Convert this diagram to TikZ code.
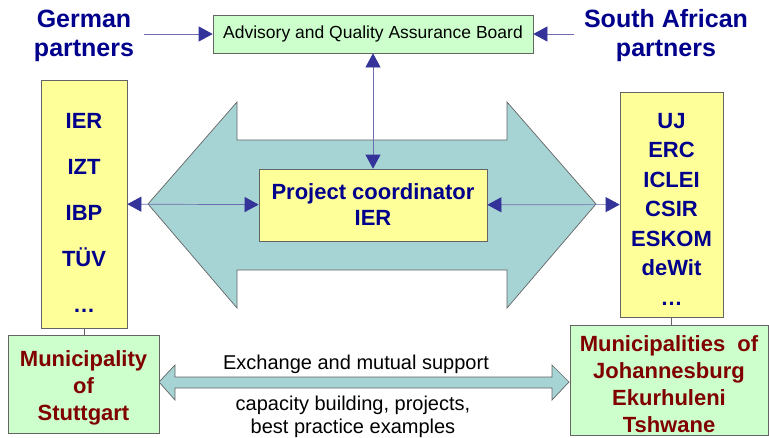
\documentclass[tikz,border=0pt]{standalone}
\usepackage{fontspec}
\setmainfont{Liberation Sans}
\usetikzlibrary{arrows.meta}
\usetikzlibrary{positioning}
\definecolor{partnerblue}{RGB}{0,0,140}
\definecolor{cityred}{RGB}{128,0,0}
\definecolor{tipblue}{RGB}{51,51,153}
\definecolor{lineblue}{RGB}{110,110,175}
\definecolor{boxyellow}{RGB}{255,255,153}
\definecolor{boxgreen}{RGB}{204,255,204}
\definecolor{flowcyan}{RGB}{166,212,212}
\definecolor{rim}{RGB}{100,100,100}

\begin{document}
\begin{tikzpicture}[
    x=1pt, y=-1pt,
    >={Triangle[color=tipblue, length=14, width=15]},
    link/.style={draw=lineblue, line width=0.7, ->},
    twoway/.style={link, <->},
    box/.style={draw=rim, line width=0.7, inner sep=0, align=center},
    partner/.style={align=center, text=partnerblue, inner sep=10,
        font=\bfseries\fontsize{25}{29}\selectfont},
    list/.style={box, fill=boxyellow, text=partnerblue},
    muni/.style={box, fill=boxgreen, text=cityred,
        font=\bfseries\fontsize{22}{27}\selectfont},
    flow/.style={fill=flowcyan, draw=rim, line width=0.7},
    note/.style={align=center, inner sep=1, font=\fontsize{20}{23}\selectfont},
    ]

    \useasboundingbox (0,0) rectangle (769,437);

    % the two block arrows
    \filldraw [flow] (148,204) -- (237,102) -- (237,140) -- (507,140)
        -- (507,102) -- (596,204) -- (507,308) -- (507,270) -- (237,270)
        -- (237,308) -- cycle;
    \filldraw [flow] (159,382) -- (175,365) -- (175,377) -- (552,377)
        -- (552,365) -- (569,382) -- (552,400) -- (552,388) -- (175,388)
        -- (175,400) -- cycle;

    \node (gp) [partner] at (84,35.5) {German\\partners};
    \node (sap) [partner] at (666,35.5) {South African\\partners};
    \node (adv) [box, fill=boxgreen, minimum width=320, minimum height=38,
        font=\fontsize{17.5}{20}\selectfont] at (373,34)
        {Advisory and Quality Assurance Board};
    \node (pc) [list, minimum width=228, minimum height=72,
        font=\bfseries\fontsize{22}{26}\selectfont] at (373,205)
        {Project coordinator\\IER};
    \node (ger) [list, minimum width=86, minimum height=248,
        font=\bfseries\fontsize{22}{46}\selectfont] at (84,204)
        {\rule{0pt}{32pt}IER\\IZT\\IBP\\TÜV\\…};
    \node (sa) [list, minimum width=103, minimum height=225,
        font=\bfseries\fontsize{22}{29.5}\selectfont] at (671.5,204.5)
        {\rule{0pt}{24pt}UJ\\ERC\\ICLEI\\CSIR\\ESKOM\\deWit\\…};
    \node (stg) [muni, minimum width=151, minimum height=98] at (83.5,384)
        {\rule{0pt}{24pt}Municipality\\of\\Stuttgart};
    \node (jhb) [muni, minimum width=198, minimum height=110] at (669,380)
        {\rule{0pt}{24pt}Municipalities\ \ of\\Johannesburg\\Ekurhuleni\\Tshwane};
    \node (xch) [note] at (356,364) {Exchange and mutual support};
    \node (cap) [note] at (353,417) {capacity building, projects,\\best practice examples};

    \draw [link] (gp.east |- adv) -- (adv.west);
    \draw [link] (sap.west |- adv) -- (adv.east);
    \draw [twoway] (adv) -- (pc);
    \draw [twoway] (ger) -- (pc);
    \draw [twoway] (pc) -- (sa);
    \draw [draw=rim, line width=0.7] (ger.south) -- (ger.south |- stg.north);
    \draw [draw=rim, line width=0.7] (sa.south) -- (sa.south |- jhb.north);
\end{tikzpicture}
\end{document}
